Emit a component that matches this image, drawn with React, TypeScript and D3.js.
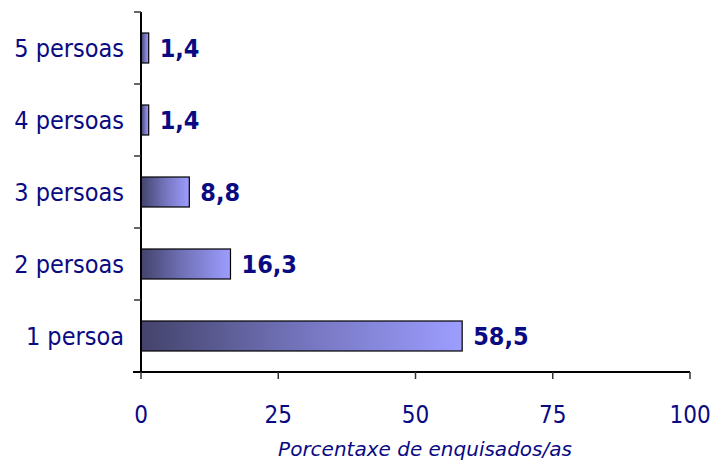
import { scaleBand, scaleLinear } from "d3";
import React from "react";

const categories = ["5 persoas", "4 persoas", "3 persoas", "2 persoas", "1 persoa"];
const values = [1.4, 1.4, 8.8, 16.3, 58.5];
const valueLabels = ["1,4", "1,4", "8,8", "16,3", "58,5"];
const xTicks = [0, 25, 50, 75, 100];
const xTitle = "Porcentaxe de enquisados/as";

const width = 714;
const height = 465;
const left = 141;
const right = 690;
const top = 12;
const bottom = 372;
const navy = "#0a0a82";
const font = "'DejaVu Sans Condensed', 'Liberation Sans', sans-serif";

const App: React.FC = () => {
  const xScale = scaleLinear().domain([0, 100]).range([left, right]);
  const yScale = scaleBand<string>()
    .domain(categories)
    .range([top, bottom])
    .paddingInner(0.5833)
    .paddingOuter(0.2917);

  const step = yScale.step();
  const bandEdges = categories.map((_, i) => top + i * step).concat(bottom);

  return (
    <svg
      width={width}
      height={height}
      style={{ position: "absolute", left: 0, top: 0, background: "#fff" }}
      fontFamily={font}
    >
      <defs>
        <linearGradient id="barFill" x1="0" x2="1" y1="0" y2="0">
          <stop offset="0%" stopColor="#43436b" />
          <stop offset="50%" stopColor="#7474bd" />
          <stop offset="100%" stopColor="#9d9dff" />
        </linearGradient>
      </defs>

      {categories.map((c, i) => {
        const y = yScale(c)!;
        const bw = yScale.bandwidth();
        const x1 = xScale(values[i]);
        return (
          <g key={c}>
            <rect
              x={xScale(0)}
              y={y}
              width={x1 - xScale(0)}
              height={bw}
              fill="url(#barFill)"
              stroke="#000"
              strokeWidth={1.2}
            />
            <text
              x={x1 + 11}
              y={y + bw / 2}
              dy="0.37em"
              fill={navy}
              fontWeight="bold"
              fontSize={25}
            >
              {valueLabels[i]}
            </text>
            <text
              x={124}
              y={y + bw / 2}
              dy="0.37em"
              textAnchor="end"
              fill={navy}
              fontSize={25}
            >
              {c}
            </text>
          </g>
        );
      })}

      {/* y axis */}
      <line x1={left} x2={left} y1={top} y2={bottom} stroke="#000" strokeWidth={2} />
      {bandEdges.map((e) => (
        <line key={e} x1={left - 7} x2={left} y1={e} y2={e} stroke="#333" strokeWidth={1.5} />
      ))}

      {/* x axis */}
      <line x1={left - 8} x2={right} y1={bottom} y2={bottom} stroke="#000" strokeWidth={2} />
      {xTicks.map((t) => (
        <g key={t} transform={`translate(${xScale(t)},${bottom})`}>
          <line y1={0} y2={7} stroke="#333" strokeWidth={1.5} />
          <text y={51} textAnchor="middle" fill={navy} fontSize={24}>
            {t}
          </text>
        </g>
      ))}

      <text
        x={425}
        y={456}
        textAnchor="middle"
        fill={navy}
        fontSize={20}
        fontStyle="italic"
        fontFamily="'DejaVu Sans', sans-serif"
      >
        {xTitle}
      </text>
    </svg>
  );
};

export default App;
